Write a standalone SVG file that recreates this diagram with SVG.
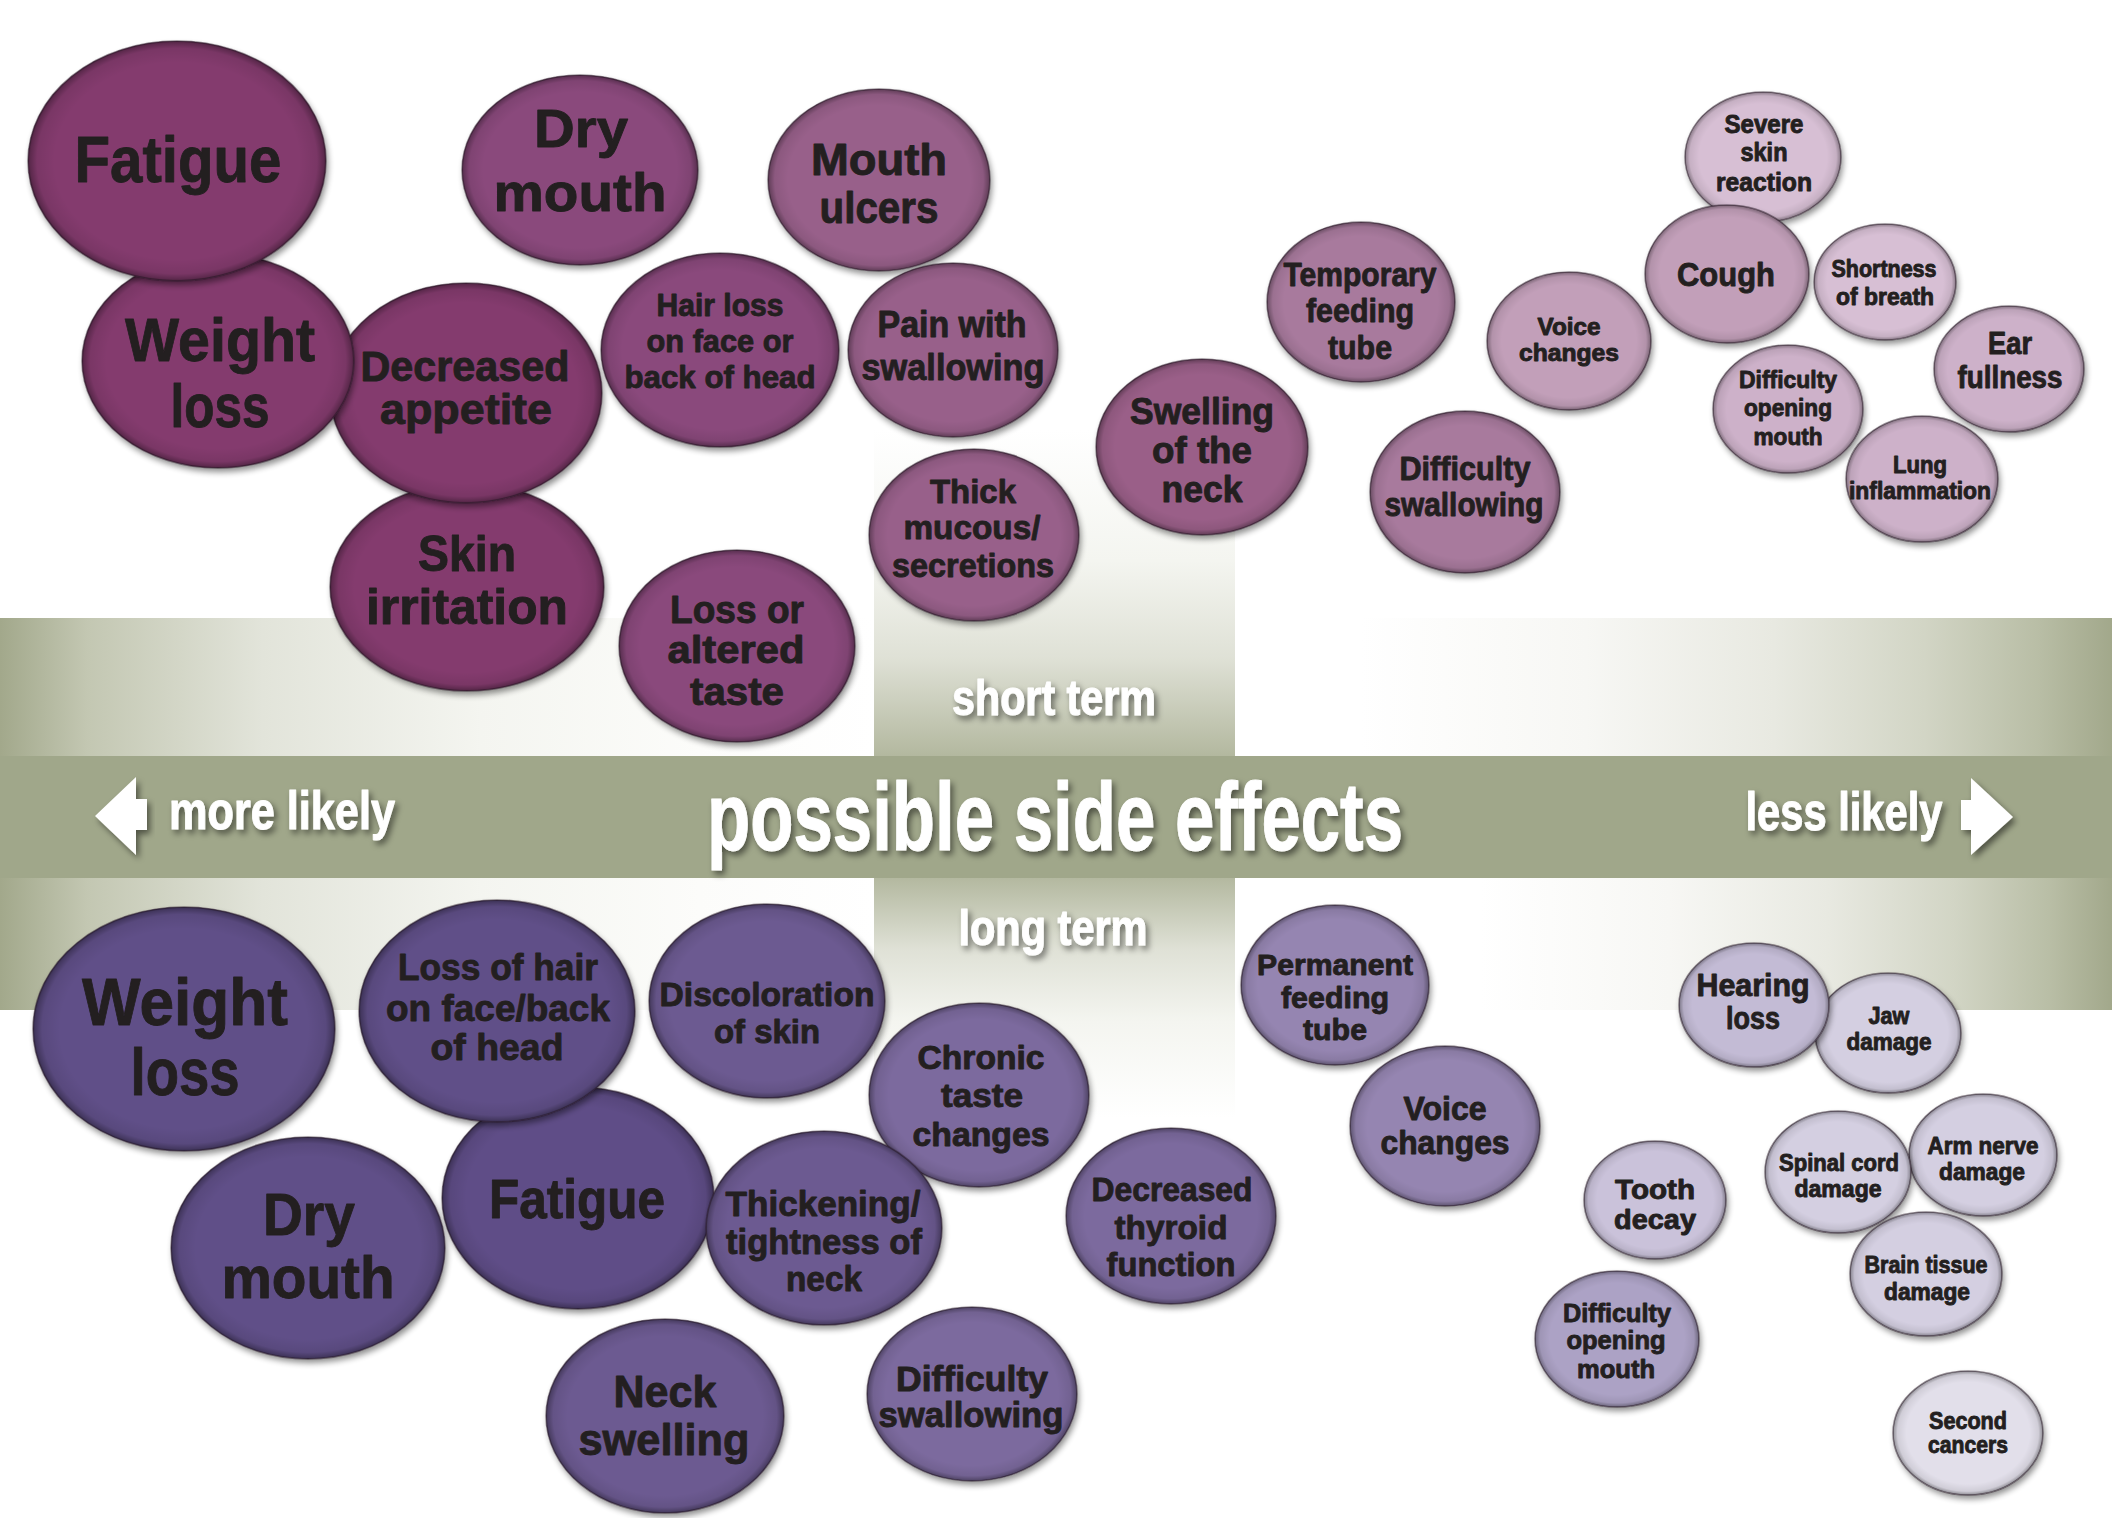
<svg xmlns="http://www.w3.org/2000/svg" width="2112" height="1518" viewBox="0 0 2112 1518">
<style>
.t{font-family:"Liberation Sans Narrow","Liberation Sans",Arial,sans-serif;font-weight:700;fill:#231f20;stroke:#231f20;stroke-width:0.9;stroke-linejoin:round;text-anchor:middle}
.w{font-family:"Liberation Sans Narrow","Liberation Sans",Arial,sans-serif;font-weight:700;fill:#ffffff;stroke:#ffffff;stroke-width:1;stroke-linejoin:round;text-anchor:middle;filter:url(#ts)}
.b{filter:url(#ds)}
.rim{fill:url(#rim);stroke:#2a1a28;stroke-opacity:.5;stroke-width:1.5}
.ar{fill:#ffffff;filter:url(#ts)}
</style>
<defs>
<filter id="ds" x="-10%" y="-10%" width="125%" height="130%">
<feGaussianBlur in="SourceAlpha" stdDeviation="3"/>
<feOffset dx="2" dy="4"/>
<feComponentTransfer><feFuncA type="linear" slope="0.45"/></feComponentTransfer>
<feMerge><feMergeNode/><feMergeNode in="SourceGraphic"/></feMerge>
</filter>
<filter id="ts" x="-10%" y="-20%" width="125%" height="150%">
<feGaussianBlur in="SourceAlpha" stdDeviation="3"/>
<feOffset dx="3" dy="4"/>
<feComponentTransfer><feFuncA type="linear" slope="0.5"/></feComponentTransfer>
<feMerge><feMergeNode/><feMergeNode in="SourceGraphic"/></feMerge>
</filter>
<radialGradient id="rim" cx=".5" cy=".5" r=".5">
<stop offset=".82" stop-color="#000" stop-opacity="0"/>
<stop offset=".94" stop-color="#000" stop-opacity=".08"/>
<stop offset=".985" stop-color="#000" stop-opacity=".3"/>
<stop offset="1" stop-color="#000" stop-opacity=".5"/>
</radialGradient>
<linearGradient id="gl" x1="0" y1="0" x2="1" y2="0">
<stop offset="0" stop-color="#a2a88b"/>
<stop offset=".1" stop-color="#c3c7b2"/>
<stop offset=".3" stop-color="#e2e4da"/>
<stop offset=".55" stop-color="#f4f5f0"/>
<stop offset=".8" stop-color="#fcfcfa"/>
<stop offset="1" stop-color="#ffffff"/>
</linearGradient>
<linearGradient id="gr" x1="0" y1="0" x2="1" y2="0">
<stop offset="0" stop-color="#ffffff"/>
<stop offset=".3" stop-color="#f7f7f4"/>
<stop offset=".55" stop-color="#e8e9e1"/>
<stop offset=".75" stop-color="#d2d5c5"/>
<stop offset=".9" stop-color="#b9bea6"/>
<stop offset="1" stop-color="#a2a88b"/>
</linearGradient>
<linearGradient id="gu" x1="0" y1="0" x2="0" y2="1">
<stop offset="0" stop-color="#ffffff"/>
<stop offset=".4" stop-color="#f4f5f0"/>
<stop offset=".7" stop-color="#dfe1d6"/>
<stop offset="1" stop-color="#b3b89f"/>
</linearGradient>
<linearGradient id="gd" x1="0" y1="0" x2="0" y2="1">
<stop offset="0" stop-color="#b3b89f"/>
<stop offset=".3" stop-color="#dfe1d6"/>
<stop offset=".6" stop-color="#f4f5f0"/>
<stop offset="1" stop-color="#ffffff"/>
</linearGradient>
</defs>
<rect width="2112" height="1518" fill="#ffffff"/>
<g id="bands">
<rect x="0" y="618" width="874" height="138" fill="url(#gl)"/>
<rect x="0" y="877" width="874" height="133" fill="url(#gl)"/>
<rect x="874" y="430" width="361" height="326" fill="url(#gu)"/>
<rect x="874" y="877" width="361" height="241" fill="url(#gd)"/>
<rect x="1361" y="618" width="751" height="138" fill="url(#gr)"/>
<rect x="1480" y="877" width="632" height="133" fill="url(#gr)"/>
<rect x="0" y="756" width="2112" height="122" fill="#a0a78a"/>
</g>
<g id="band-labels">
<text class="w" x="1055" y="850" font-size="96" textLength="696" lengthAdjust="spacingAndGlyphs">possible side effects</text>
<text class="w" x="282" y="829" font-size="54" textLength="226" lengthAdjust="spacingAndGlyphs">more likely</text>
<text class="w" x="1844" y="830" font-size="54" textLength="197" lengthAdjust="spacingAndGlyphs">less likely</text>
<text class="w" x="1054" y="715" font-size="50" textLength="204" lengthAdjust="spacingAndGlyphs">short term</text>
<text class="w" x="1053" y="945" font-size="50" textLength="189" lengthAdjust="spacingAndGlyphs">long term</text>
</g>
<g id="arrows">
<polygon class="ar" points="95,816 136,777 136,799 147,799 147,830 136,830 136,855"/>
<polygon class="ar" points="2013,817 1971,778 1971,800 1961,800 1961,830 1971,830 1971,855"/>
</g>
<g id="connectors"></g>
<g id="short-term">
<g id="s-skin-irritation"><ellipse class="b" cx="467" cy="587" rx="137" ry="104" fill="#843b6e"/><ellipse class="rim" cx="467" cy="587" rx="137" ry="104"/>
<text class="t" font-size="50" x="467" y="571" textLength="98" lengthAdjust="spacingAndGlyphs">Skin</text>
<text class="t" font-size="50" x="467" y="624" textLength="202" lengthAdjust="spacingAndGlyphs">irritation</text></g>
<g id="s-decreased-appetite"><ellipse class="b" cx="466" cy="393" rx="136" ry="110" fill="#843b6e"/><ellipse class="rim" cx="466" cy="393" rx="136" ry="110"/>
<text class="t" font-size="42" x="465" y="381" textLength="209" lengthAdjust="spacingAndGlyphs">Decreased</text>
<text class="t" font-size="42" x="466" y="424" textLength="172" lengthAdjust="spacingAndGlyphs">appetite</text></g>
<g id="s-weight-loss"><ellipse class="b" cx="218" cy="361" rx="136" ry="107" fill="#843b6e"/><ellipse class="rim" cx="218" cy="361" rx="136" ry="107"/>
<text class="t" font-size="62" x="220" y="361" textLength="190" lengthAdjust="spacingAndGlyphs">Weight</text>
<text class="t" font-size="62" x="220" y="427" textLength="99" lengthAdjust="spacingAndGlyphs">loss</text></g>
<g id="s-fatigue"><ellipse class="b" cx="177" cy="161" rx="149" ry="120" fill="#843b6e"/><ellipse class="rim" cx="177" cy="161" rx="149" ry="120"/>
<text class="t" font-size="64" x="178" y="182" textLength="207" lengthAdjust="spacingAndGlyphs">Fatigue</text></g>
<g id="s-dry-mouth"><ellipse class="b" cx="580" cy="170" rx="118" ry="95" fill="#8a4a7b"/><ellipse class="rim" cx="580" cy="170" rx="118" ry="95"/>
<text class="t" font-size="54" x="581" y="147" textLength="94" lengthAdjust="spacingAndGlyphs">Dry</text>
<text class="t" font-size="54" x="580" y="211" textLength="173" lengthAdjust="spacingAndGlyphs">mouth</text></g>
<g id="s-mouth-ulcers"><ellipse class="b" cx="879" cy="180" rx="111" ry="91" fill="#98608a"/><ellipse class="rim" cx="879" cy="180" rx="111" ry="91"/>
<text class="t" font-size="44" x="879" y="175" textLength="136" lengthAdjust="spacingAndGlyphs">Mouth</text>
<text class="t" font-size="44" x="879" y="223" textLength="119" lengthAdjust="spacingAndGlyphs">ulcers</text></g>
<g id="s-hair-loss"><ellipse class="b" cx="720" cy="350" rx="119" ry="97" fill="#8a4a7b"/><ellipse class="rim" cx="720" cy="350" rx="119" ry="97"/>
<text class="t" font-size="32" x="720" y="316" textLength="127" lengthAdjust="spacingAndGlyphs">Hair loss</text>
<text class="t" font-size="32" x="720" y="352" textLength="147" lengthAdjust="spacingAndGlyphs">on face or</text>
<text class="t" font-size="32" x="720" y="388" textLength="191" lengthAdjust="spacingAndGlyphs">back of head</text></g>
<g id="s-pain-swallowing"><ellipse class="b" cx="953" cy="350" rx="105" ry="87" fill="#98608a"/><ellipse class="rim" cx="953" cy="350" rx="105" ry="87"/>
<text class="t" font-size="36" x="952" y="337" textLength="149" lengthAdjust="spacingAndGlyphs">Pain with</text>
<text class="t" font-size="36" x="953" y="380" textLength="183" lengthAdjust="spacingAndGlyphs">swallowing</text></g>
<g id="s-thick-mucous"><ellipse class="b" cx="974" cy="535" rx="105" ry="86" fill="#98608a"/><ellipse class="rim" cx="974" cy="535" rx="105" ry="86"/>
<text class="t" font-size="34" x="973" y="503" textLength="86" lengthAdjust="spacingAndGlyphs">Thick</text>
<text class="t" font-size="34" x="972" y="539" textLength="137" lengthAdjust="spacingAndGlyphs">mucous/</text>
<text class="t" font-size="34" x="973" y="577" textLength="162" lengthAdjust="spacingAndGlyphs">secretions</text></g>
<g id="s-loss-taste"><ellipse class="b" cx="737" cy="646" rx="118" ry="96" fill="#8a4a7b"/><ellipse class="rim" cx="737" cy="646" rx="118" ry="96"/>
<text class="t" font-size="39" x="737" y="623" textLength="134" lengthAdjust="spacingAndGlyphs">Loss or</text>
<text class="t" font-size="39" x="736" y="663" textLength="137" lengthAdjust="spacingAndGlyphs">altered</text>
<text class="t" font-size="39" x="737" y="705" textLength="94" lengthAdjust="spacingAndGlyphs">taste</text></g>
<g id="s-swelling-neck"><ellipse class="b" cx="1202" cy="447" rx="106" ry="88" fill="#9a5e88"/><ellipse class="rim" cx="1202" cy="447" rx="106" ry="88"/>
<text class="t" font-size="37" x="1202" y="424" textLength="144" lengthAdjust="spacingAndGlyphs">Swelling</text>
<text class="t" font-size="37" x="1202" y="463" textLength="100" lengthAdjust="spacingAndGlyphs">of the</text>
<text class="t" font-size="37" x="1202" y="502" textLength="81" lengthAdjust="spacingAndGlyphs">neck</text></g>
<g id="s-temporary-feeding-tube"><ellipse class="b" cx="1361" cy="302" rx="94" ry="80" fill="#a87a9d"/><ellipse class="rim" cx="1361" cy="302" rx="94" ry="80"/>
<text class="t" font-size="33" x="1360" y="286" textLength="153" lengthAdjust="spacingAndGlyphs">Temporary</text>
<text class="t" font-size="33" x="1360" y="322" textLength="108" lengthAdjust="spacingAndGlyphs">feeding</text>
<text class="t" font-size="33" x="1360" y="359" textLength="64" lengthAdjust="spacingAndGlyphs">tube</text></g>
<g id="s-difficulty-swallowing"><ellipse class="b" cx="1465" cy="492" rx="95" ry="81" fill="#a87a9d"/><ellipse class="rim" cx="1465" cy="492" rx="95" ry="81"/>
<text class="t" font-size="33" x="1465" y="480" textLength="131" lengthAdjust="spacingAndGlyphs">Difficulty</text>
<text class="t" font-size="33" x="1464" y="516" textLength="159" lengthAdjust="spacingAndGlyphs">swallowing</text></g>
<g id="s-voice-changes"><ellipse class="b" cx="1569" cy="341" rx="82" ry="69" fill="#c29fb9"/><ellipse class="rim" cx="1569" cy="341" rx="82" ry="69"/>
<text class="t" font-size="23" x="1569" y="335" textLength="63" lengthAdjust="spacingAndGlyphs">Voice</text>
<text class="t" font-size="23" x="1569" y="361" textLength="100" lengthAdjust="spacingAndGlyphs">changes</text></g>
<g id="s-severe-skin-reaction"><ellipse class="b" cx="1763" cy="157" rx="78" ry="65" fill="#d7bfd4"/><ellipse class="rim" cx="1763" cy="157" rx="78" ry="65"/>
<text class="t" font-size="25" x="1764" y="133" textLength="79" lengthAdjust="spacingAndGlyphs">Severe</text>
<text class="t" font-size="25" x="1764" y="161" textLength="47" lengthAdjust="spacingAndGlyphs">skin</text>
<text class="t" font-size="25" x="1764" y="191" textLength="96" lengthAdjust="spacingAndGlyphs">reaction</text></g>
<g id="s-cough"><ellipse class="b" cx="1727" cy="274" rx="82" ry="69" fill="#c29fb9"/><ellipse class="rim" cx="1727" cy="274" rx="82" ry="69"/>
<text class="t" font-size="34" x="1726" y="286" textLength="98" lengthAdjust="spacingAndGlyphs">Cough</text></g>
<g id="s-shortness-of-breath"><ellipse class="b" cx="1885" cy="282" rx="71" ry="58" fill="#d7bfd4"/><ellipse class="rim" cx="1885" cy="282" rx="71" ry="58"/>
<text class="t" font-size="23" x="1884" y="277" textLength="105" lengthAdjust="spacingAndGlyphs">Shortness</text>
<text class="t" font-size="23" x="1885" y="305" textLength="98" lengthAdjust="spacingAndGlyphs">of breath</text></g>
<g id="s-difficulty-opening-mouth"><ellipse class="b" cx="1788" cy="409" rx="75" ry="64" fill="#cdb1c9"/><ellipse class="rim" cx="1788" cy="409" rx="75" ry="64"/>
<text class="t" font-size="24" x="1788" y="388" textLength="98" lengthAdjust="spacingAndGlyphs">Difficulty</text>
<text class="t" font-size="24" x="1788" y="416" textLength="88" lengthAdjust="spacingAndGlyphs">opening</text>
<text class="t" font-size="24" x="1788" y="445" textLength="69" lengthAdjust="spacingAndGlyphs">mouth</text></g>
<g id="s-ear-fullness"><ellipse class="b" cx="2009" cy="369" rx="75" ry="63" fill="#cdb1c9"/><ellipse class="rim" cx="2009" cy="369" rx="75" ry="63"/>
<text class="t" font-size="31" x="2010" y="354" textLength="44" lengthAdjust="spacingAndGlyphs">Ear</text>
<text class="t" font-size="31" x="2010" y="388" textLength="105" lengthAdjust="spacingAndGlyphs">fullness</text></g>
<g id="s-lung-inflammation"><ellipse class="b" cx="1922" cy="479" rx="76" ry="63" fill="#cdb1c9"/><ellipse class="rim" cx="1922" cy="479" rx="76" ry="63"/>
<text class="t" font-size="23" x="1920" y="473" textLength="54" lengthAdjust="spacingAndGlyphs">Lung</text>
<text class="t" font-size="23" x="1920" y="499" textLength="142" lengthAdjust="spacingAndGlyphs">inflammation</text></g>
</g>
<g id="long-term">
<g id="l-fatigue"><ellipse class="b" cx="578" cy="1198" rx="136" ry="111" fill="#5f4e87"/><ellipse class="rim" cx="578" cy="1198" rx="136" ry="111"/>
<text class="t" font-size="56" x="577" y="1218" textLength="176" lengthAdjust="spacingAndGlyphs">Fatigue</text></g>
<g id="l-dry-mouth"><ellipse class="b" cx="308" cy="1248" rx="137" ry="111" fill="#614f88"/><ellipse class="rim" cx="308" cy="1248" rx="137" ry="111"/>
<text class="t" font-size="60" x="309" y="1235" textLength="92" lengthAdjust="spacingAndGlyphs">Dry</text>
<text class="t" font-size="60" x="308" y="1298" textLength="173" lengthAdjust="spacingAndGlyphs">mouth</text></g>
<g id="l-weight-loss"><ellipse class="b" cx="184" cy="1029" rx="151" ry="122" fill="#614f88"/><ellipse class="rim" cx="184" cy="1029" rx="151" ry="122"/>
<text class="t" font-size="66" x="185" y="1025" textLength="206" lengthAdjust="spacingAndGlyphs">Weight</text>
<text class="t" font-size="66" x="185" y="1095" textLength="109" lengthAdjust="spacingAndGlyphs">loss</text></g>
<g id="l-loss-of-hair"><ellipse class="b" cx="497" cy="1011" rx="138" ry="111" fill="#614f88"/><ellipse class="rim" cx="497" cy="1011" rx="138" ry="111"/>
<text class="t" font-size="37" x="498" y="980" textLength="200" lengthAdjust="spacingAndGlyphs">Loss of hair</text>
<text class="t" font-size="37" x="498" y="1021" textLength="224" lengthAdjust="spacingAndGlyphs">on face/back</text>
<text class="t" font-size="37" x="497" y="1060" textLength="133" lengthAdjust="spacingAndGlyphs">of head</text></g>
<g id="l-discoloration"><ellipse class="b" cx="767" cy="1001" rx="118" ry="97" fill="#6c5a91"/><ellipse class="rim" cx="767" cy="1001" rx="118" ry="97"/>
<text class="t" font-size="34" x="767" y="1006" textLength="215" lengthAdjust="spacingAndGlyphs">Discoloration</text>
<text class="t" font-size="34" x="767" y="1043" textLength="106" lengthAdjust="spacingAndGlyphs">of skin</text></g>
<g id="l-chronic-taste"><ellipse class="b" cx="979" cy="1095" rx="110" ry="92" fill="#7b6b9e"/><ellipse class="rim" cx="979" cy="1095" rx="110" ry="92"/>
<text class="t" font-size="33" x="981" y="1069" textLength="127" lengthAdjust="spacingAndGlyphs">Chronic</text>
<text class="t" font-size="33" x="982" y="1107" textLength="82" lengthAdjust="spacingAndGlyphs">taste</text>
<text class="t" font-size="33" x="981" y="1146" textLength="137" lengthAdjust="spacingAndGlyphs">changes</text></g>
<g id="l-neck-swelling"><ellipse class="b" cx="665" cy="1416" rx="119" ry="97" fill="#6c5a91"/><ellipse class="rim" cx="665" cy="1416" rx="119" ry="97"/>
<text class="t" font-size="45" x="665" y="1407" textLength="103" lengthAdjust="spacingAndGlyphs">Neck</text>
<text class="t" font-size="45" x="664" y="1455" textLength="171" lengthAdjust="spacingAndGlyphs">swelling</text></g>
<g id="l-thickening"><ellipse class="b" cx="824" cy="1228" rx="118" ry="97" fill="#6c5a91"/><ellipse class="rim" cx="824" cy="1228" rx="118" ry="97"/>
<text class="t" font-size="35" x="823" y="1216" textLength="195" lengthAdjust="spacingAndGlyphs">Thickening/</text>
<text class="t" font-size="35" x="824" y="1254" textLength="196" lengthAdjust="spacingAndGlyphs">tightness of</text>
<text class="t" font-size="35" x="824" y="1291" textLength="76" lengthAdjust="spacingAndGlyphs">neck</text></g>
<g id="l-difficulty-swallowing"><ellipse class="b" cx="972" cy="1394" rx="105" ry="87" fill="#7b6b9e"/><ellipse class="rim" cx="972" cy="1394" rx="105" ry="87"/>
<text class="t" font-size="35" x="972" y="1391" textLength="152" lengthAdjust="spacingAndGlyphs">Difficulty</text>
<text class="t" font-size="35" x="971" y="1427" textLength="185" lengthAdjust="spacingAndGlyphs">swallowing</text></g>
<g id="l-decreased-thyroid"><ellipse class="b" cx="1171" cy="1216" rx="105" ry="88" fill="#7b6b9e"/><ellipse class="rim" cx="1171" cy="1216" rx="105" ry="88"/>
<text class="t" font-size="34" x="1172" y="1201" textLength="161" lengthAdjust="spacingAndGlyphs">Decreased</text>
<text class="t" font-size="34" x="1171" y="1239" textLength="113" lengthAdjust="spacingAndGlyphs">thyroid</text>
<text class="t" font-size="34" x="1171" y="1276" textLength="129" lengthAdjust="spacingAndGlyphs">function</text></g>
<g id="l-voice-changes"><ellipse class="b" cx="1445" cy="1126" rx="95" ry="80" fill="#9585b1"/><ellipse class="rim" cx="1445" cy="1126" rx="95" ry="80"/>
<text class="t" font-size="33" x="1445" y="1120" textLength="83" lengthAdjust="spacingAndGlyphs">Voice</text>
<text class="t" font-size="33" x="1445" y="1154" textLength="129" lengthAdjust="spacingAndGlyphs">changes</text></g>
<g id="l-permanent-feeding-tube"><ellipse class="b" cx="1335" cy="985" rx="94" ry="80" fill="#9585b1"/><ellipse class="rim" cx="1335" cy="985" rx="94" ry="80"/>
<text class="t" font-size="30" x="1335" y="975" textLength="156" lengthAdjust="spacingAndGlyphs">Permanent</text>
<text class="t" font-size="30" x="1335" y="1008" textLength="108" lengthAdjust="spacingAndGlyphs">feeding</text>
<text class="t" font-size="30" x="1335" y="1040" textLength="64" lengthAdjust="spacingAndGlyphs">tube</text></g>
<g id="l-jaw-damage"><ellipse class="b" cx="1888" cy="1033" rx="73" ry="60" fill="#d4cfe1"/><ellipse class="rim" cx="1888" cy="1033" rx="73" ry="60"/>
<text class="t" font-size="23" x="1889" y="1024" textLength="41" lengthAdjust="spacingAndGlyphs">Jaw</text>
<text class="t" font-size="23" x="1889" y="1050" textLength="85" lengthAdjust="spacingAndGlyphs">damage</text></g>
<g id="l-hearing-loss"><ellipse class="b" cx="1754" cy="1005" rx="75" ry="62" fill="#c3bbd5"/><ellipse class="rim" cx="1754" cy="1005" rx="75" ry="62"/>
<text class="t" font-size="31" x="1753" y="996" textLength="113" lengthAdjust="spacingAndGlyphs">Hearing</text>
<text class="t" font-size="31" x="1753" y="1029" textLength="54" lengthAdjust="spacingAndGlyphs">loss</text></g>
<g id="l-tooth-decay"><ellipse class="b" cx="1655" cy="1200" rx="71" ry="59" fill="#cac2da"/><ellipse class="rim" cx="1655" cy="1200" rx="71" ry="59"/>
<text class="t" font-size="27" x="1655" y="1199" textLength="80" lengthAdjust="spacingAndGlyphs">Tooth</text>
<text class="t" font-size="27" x="1655" y="1229" textLength="82" lengthAdjust="spacingAndGlyphs">decay</text></g>
<g id="l-difficulty-opening-mouth"><ellipse class="b" cx="1617" cy="1339" rx="82" ry="68" fill="#aca2c5"/><ellipse class="rim" cx="1617" cy="1339" rx="82" ry="68"/>
<text class="t" font-size="26" x="1617" y="1322" textLength="108" lengthAdjust="spacingAndGlyphs">Difficulty</text>
<text class="t" font-size="26" x="1616" y="1349" textLength="99" lengthAdjust="spacingAndGlyphs">opening</text>
<text class="t" font-size="26" x="1616" y="1378" textLength="78" lengthAdjust="spacingAndGlyphs">mouth</text></g>
<g id="l-arm-nerve-damage"><ellipse class="b" cx="1983" cy="1155" rx="74" ry="61" fill="#d4cfe1"/><ellipse class="rim" cx="1983" cy="1155" rx="74" ry="61"/>
<text class="t" font-size="23" x="1983" y="1154" textLength="111" lengthAdjust="spacingAndGlyphs">Arm nerve</text>
<text class="t" font-size="23" x="1982" y="1180" textLength="86" lengthAdjust="spacingAndGlyphs">damage</text></g>
<g id="l-spinal-cord-damage"><ellipse class="b" cx="1838" cy="1172" rx="73" ry="61" fill="#d4cfe1"/><ellipse class="rim" cx="1838" cy="1172" rx="73" ry="61"/>
<text class="t" font-size="23" x="1839" y="1171" textLength="120" lengthAdjust="spacingAndGlyphs">Spinal cord</text>
<text class="t" font-size="23" x="1838" y="1197" textLength="87" lengthAdjust="spacingAndGlyphs">damage</text></g>
<g id="l-brain-tissue-damage"><ellipse class="b" cx="1926" cy="1274" rx="76" ry="62" fill="#d4cfe1"/><ellipse class="rim" cx="1926" cy="1274" rx="76" ry="62"/>
<text class="t" font-size="23" x="1926" y="1273" textLength="123" lengthAdjust="spacingAndGlyphs">Brain tissue</text>
<text class="t" font-size="23" x="1927" y="1300" textLength="86" lengthAdjust="spacingAndGlyphs">damage</text></g>
<g id="l-second-cancers"><ellipse class="b" cx="1968" cy="1433" rx="75" ry="62" fill="#e2dfea"/><ellipse class="rim" cx="1968" cy="1433" rx="75" ry="62"/>
<text class="t" font-size="24" x="1968" y="1429" textLength="78" lengthAdjust="spacingAndGlyphs">Second</text>
<text class="t" font-size="24" x="1968" y="1453" textLength="80" lengthAdjust="spacingAndGlyphs">cancers</text></g>
</g>
</svg>
